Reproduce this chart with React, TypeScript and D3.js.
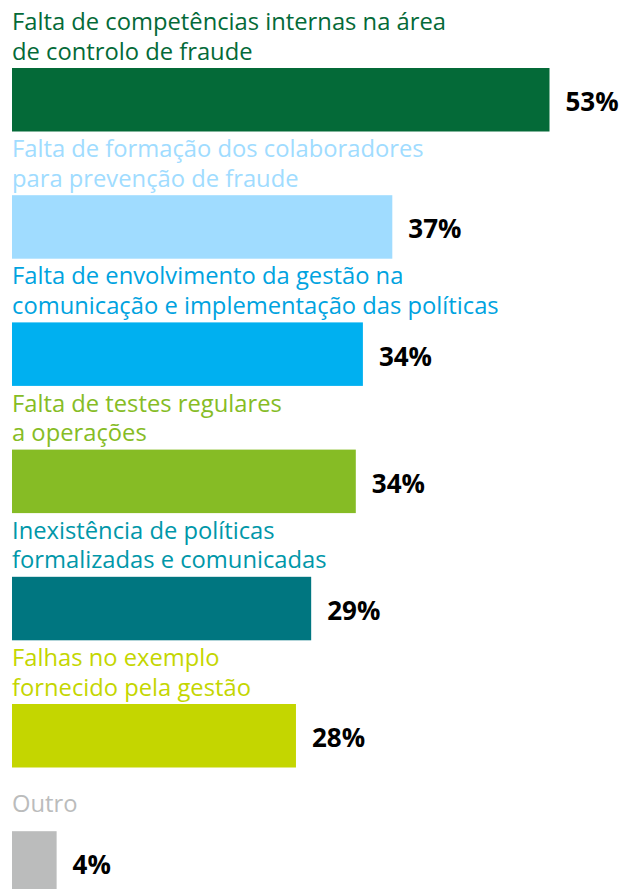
import React from "react";
import * as d3 from "d3";

const categories: string[][] = [
  ["Falta de competências internas na área", "de controlo de fraude"],
  ["Falta de formação dos colaboradores", "para prevenção de fraude"],
  ["Falta de envolvimento da gestão na", "comunicação e implementação das políticas"],
  ["Falta de testes regulares", "a operações"],
  ["Inexistência de políticas", "formalizadas e comunicadas"],
  ["Falhas no exemplo", "fornecido pela gestão"],
  ["Outro"],
];
// values (labels show the rounded numbers)
const values: number[] = [53, 37.5, 34.6, 33.9, 29.5, 28, 4.4];
const valueLabels: string[] = ["53%", "37%", "34%", "34%", "29%", "28%", "4%"];
const barColors: string[] = ["#046A38", "#A0DCFF", "#00B0F0", "#86BC25", "#007680", "#C4D600", "#BBBCBC"];
const textColors: string[] = ["#046A38", "#A0DCFF", "#00A3E0", "#86BC25", "#0097A9", "#C4D600", "#BBBCBC"];

const W = 620;
const H = 889;
const LEFT = 12;

export default function App() {
  const x = d3.scaleLinear().domain([0, 53]).range([0, 537.5]);
  const y = d3
    .scaleBand<number>()
    .domain(d3.range(values.length))
    .range([68, 68 + 127.2 * 7]);
  const barH = 63.5;
  return (
    <svg
      width={W}
      height={H}
      style={{ position: "absolute", left: 0, top: 0 }}
      fontFamily="'Open Sans', sans-serif"
    >
      {values.map((v, i) => {
        const top = y(i)!;
        const lines = categories[i];
        return (
          <g key={i}>
            {lines.map((t, j) => {
              const n = lines.length;
              const base = n === 1 ? top - 19.5 : top - 38 + j * 29.5;
              return (
                <text key={j} x={LEFT} y={base} fill={textColors[i]} fontSize={23.75} fontWeight={400}>
                  {t}
                </text>
              );
            })}
            <rect x={LEFT} y={top} width={x(v)} height={barH} fill={barColors[i]} />
            <text
              x={LEFT + x(v) + 16}
              y={top + barH / 2 + 2}
              dy="0.36em"
              fill="#000"
              fontSize={26}
              fontWeight={700}
            >
              {valueLabels[i]}
            </text>
          </g>
        );
      })}
    </svg>
  );
}
